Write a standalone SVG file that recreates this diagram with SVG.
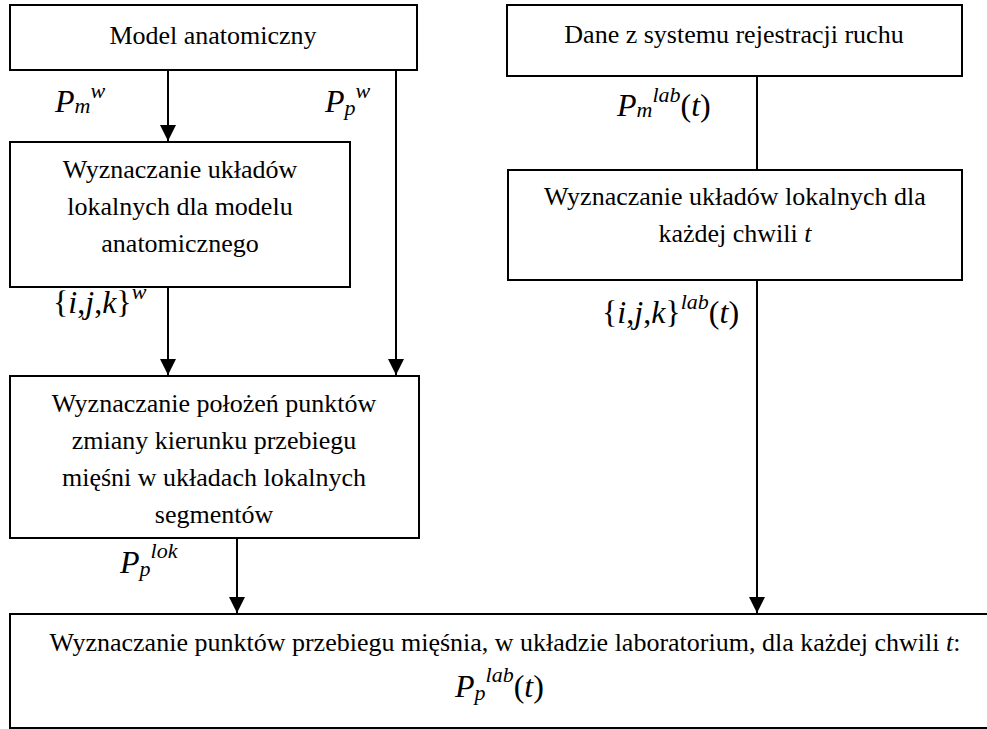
<svg xmlns="http://www.w3.org/2000/svg" width="987" height="729" viewBox="0 0 987 729">
<style>
text{font-family:'Liberation Serif','Tinos','Times New Roman','Times','Nimbus Roman','Nimbus Roman No9 L','FreeSerif','Noto Serif','DejaVu Serif',serif;fill:#000}
.box{fill:#fff;stroke:#000;stroke-width:2}
.t{font-size:26px;text-anchor:middle}
.m{font-size:32px}
.i{font-style:italic}
.s{font-size:22px;font-style:italic}
.ln{stroke:#000;stroke-width:2;fill:none}
</style>
<defs>
<marker id="ah" viewBox="0 0 16 16" refX="16" refY="8" markerWidth="16" markerHeight="16" markerUnits="userSpaceOnUse" orient="auto">
<path d="M0,0 L16,8 L0,16 Z" fill="#000"/>
</marker>
</defs>
<rect width="987" height="729" fill="#fff"/>
<g id="connectors">
<line class="ln" x1="168" y1="70" x2="168" y2="141" marker-end="url(#ah)"/>
<line class="ln" x1="396" y1="70" x2="396" y2="375" marker-end="url(#ah)"/>
<line class="ln" x1="168" y1="287" x2="168" y2="375" marker-end="url(#ah)"/>
<line class="ln" x1="237" y1="538" x2="237" y2="613" marker-end="url(#ah)"/>
<line class="ln" x1="757" y1="76" x2="757" y2="170"/>
<line class="ln" x1="757" y1="280" x2="757" y2="613" marker-end="url(#ah)"/>
</g>
<g id="model">
<rect class="box" x="10" y="5" width="407" height="65"/>
<text class="t" x="213" y="44">Model anatomiczny</text>
</g>
<g id="dane">
<rect class="box" x="507" y="5" width="455" height="71"/>
<text class="t" x="734" y="43">Dane z systemu rejestracji ruchu</text>
</g>
<g id="uklady-model">
<rect class="box" x="10" y="142" width="340" height="145"/>
<text class="t" x="180" y="178">Wyznaczanie układów</text>
<text class="t" x="180" y="215">lokalnych dla modelu</text>
<text class="t" x="180" y="252">anatomicznego</text>
</g>
<g id="uklady-t">
<rect class="box" x="508" y="170" width="454" height="110"/>
<text class="t" x="735" y="205">Wyznaczanie układów lokalnych dla</text>
<text class="t" x="735" y="242">każdej chwili <tspan class="i">t</tspan></text>
</g>
<g id="polozenia">
<rect class="box" x="10" y="376" width="409" height="162"/>
<text class="t" x="214" y="412">Wyznaczanie położeń punktów</text>
<text class="t" x="214" y="449">zmiany kierunku przebiegu</text>
<text class="t" x="214" y="486">mięśni w układach lokalnych</text>
<text class="t" x="214" y="523">segmentów</text>
</g>
<g id="wynik">
<rect class="box" x="10" y="614" width="1000" height="114"/>
<text class="t" x="505" y="651">Wyznaczanie punktów przebiegu mięśnia, w układzie laboratorium, dla każdej chwili <tspan class="i">t</tspan>:</text>
<text class="m" x="455" y="697"><tspan class="i">P</tspan><tspan class="s" dy="3">p</tspan><tspan class="s" dy="-18">lab</tspan><tspan dy="15">(</tspan><tspan class="i">t</tspan>)</text>
</g>
<g id="labels">
<text class="m" x="55" y="112"><tspan class="i">P</tspan><tspan class="s" dy="1">m</tspan><tspan class="s" dy="-15">w</tspan></text>
<text class="m" x="325" y="112"><tspan class="i">P</tspan><tspan class="s" dy="3">p</tspan><tspan class="s" dy="-17">w</tspan></text>
<text class="m" x="617" y="116"><tspan class="i">P</tspan><tspan class="s" dy="1">m</tspan><tspan class="s" dy="-15">lab</tspan><tspan dy="14">(</tspan><tspan class="i">t</tspan>)</text>
<text class="m" x="53" y="313">{<tspan class="i">i</tspan>,<tspan class="i">j</tspan>,<tspan class="i">k</tspan>}<tspan class="s" dy="-14">w</tspan></text>
<text class="m" x="602" y="323">{<tspan class="i">i</tspan>,<tspan class="i">j</tspan>,<tspan class="i">k</tspan>}<tspan class="s" dy="-14">lab</tspan><tspan dy="14">(</tspan><tspan class="i">t</tspan>)</text>
<text class="m" x="120" y="573"><tspan class="i">P</tspan><tspan class="s" dy="3">p</tspan><tspan class="s" dy="-18">lok</tspan></text>
</g>
</svg>
